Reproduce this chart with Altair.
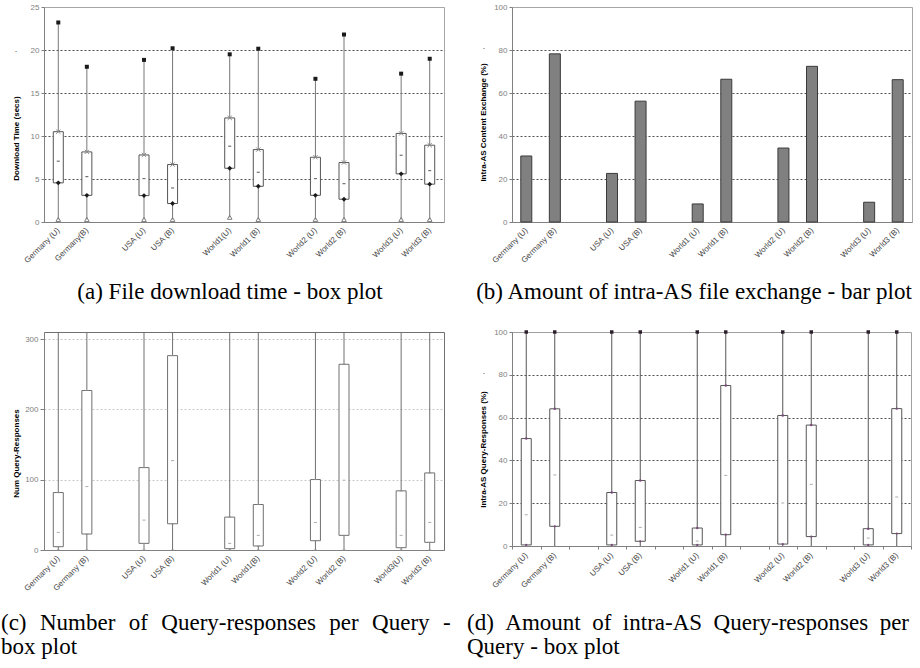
import altair as alt
import pandas as pd

SANS = "Liberation Sans"
SERIF = "Liberation Serif"
SPACERS = [" ", "  ", "   ", "    "]

# ---------------- data ----------------
# (a) File download time - box plot
a_labels = ["Germany (U)", "Germany(B)", "USA (U)", "USA (B)", "World1(U)",
            "World1 (B)", "World2 (U)", "World2 (B)", "World3 (U)", "World3 (B)"]
a_min = [0.3, 0.3, 0.3, 0.3, 0.55, 0.3, 0.3, 0.3, 0.3, 0.3]
a_q1 = [4.55, 3.1, 3.07, 2.15, 6.25, 4.15, 3.1, 2.65, 5.6, 4.4]
a_med = [7.07, 5.28, 5.05, 3.96, 8.81, 5.78, 5.05, 4.46, 7.76, 5.98]
a_q3 = [10.5, 8.15, 7.8, 6.68, 12.1, 8.42, 7.53, 6.91, 10.3, 8.93]
a_max = [23.2, 18.05, 18.85, 20.2, 19.5, 20.15, 16.65, 21.8, 17.25, 18.98]

# (b) Amount of intra-AS file exchange - bar plot
b_labels = ["Germany (U)", "Germany (B)", "USA (U)", "USA (B)", "World1 (U)",
            "World1 (B)", "World2 (U)", "World2 (B)", "World3 (U)", "World3 (B)"]
b_val = [30.7, 78.2, 22.6, 56.2, 8.4, 66.4, 34.4, 72.4, 9.2, 66.2]

# (c) Number of Query-responses per Query - box plot
c_labels = ["Germany (U)", "Germany (B)", "USA (U)", "USA (B)", "World1 (U)",
            "World1(B)", "World2 (U)", "World2 (B)", "World3(U)", "World3 (B)"]
c_min = [0, 0, 0, 0, 0, 0, 0, 0, 0, 0]
c_q1 = [4.7, 22.7, 9.4, 37.3, 1.9, 5.7, 13.2, 20.8, 3.3, 10.9]
c_med = [25.0, 90.2, 42.5, 127.1, 9.4, 20.8, 39.2, 99.2, 20.8, 39.2]
c_q3 = [81.7, 226.8, 117.2, 276.4, 46.8, 64.7, 100.2, 264.1, 84.1, 109.6]
c_max = [310, 310, 310, 310, 310, 310, 310, 310, 310, 310]

# (d) Amount of intra-AS Query-responses per Query - box plot
d_labels = ["Germany (U)", "Germany (B)", "USA (U)", "USA (B)", "World1 (U)",
            "World1 (B)", "World2 (U)", "World2 (B)", "World3 (U)", "World3 (B)"]
d_min = [0, 0, 0, 0, 0, 0, 0, 0, 0, 0]
d_q1 = [0.5, 9.2, 0.5, 2.2, 0.5, 5.3, 0.9, 4.4, 0.5, 5.8]
d_med = [14.6, 33.2, 5.1, 8.7, 2.3, 33.0, 20.1, 28.8, 3.7, 22.9]
d_q3 = [50.2, 64.1, 25.0, 30.6, 8.4, 75.0, 61.0, 56.5, 8.1, 64.2]
d_max = [100, 100, 100, 100, 100, 100, 100, 100, 100, 100]

cap_a = "(a) File download time - box plot"
cap_b = "(b) Amount of intra-AS file exchange - bar plot"
cap_c = ["(c) \u2004Number \u2004of \u2004Query-responses \u2004per \u2004Query \u2004-", "box plot"]
cap_d = ["(d) \u2005Amount \u2005of \u2005intra-AS \u2005Query-responses \u2005per", "Query - box plot"]


# ---------------- helpers ----------------
def domain_order(labels):
    out = []
    for i in range(5):
        out += labels[2 * i:2 * i + 2]
        if i < 4:
            out.append(SPACERS[i])
    return out


def x_enc(labels, ticks=False, tick_size=0, label_pad=7):
    return alt.X(
        "cat:N",
        scale=alt.Scale(domain=domain_order(labels), paddingInner=0, paddingOuter=0),
        axis=alt.Axis(title=None, labelAngle=-45, labelAlign="right", labelBaseline="middle",
                      labelFont=SANS, labelFontSize=8, labelColor="#444444", labelOverlap=False,
                      labelPadding=label_pad, ticks=ticks, tickSize=tick_size, tickBand="extent",
                      tickColor="#808080", domainColor="#808080", grid=False),
    )


def y_axis(vals, title, tx, ty, grid_color, top, label_pad=2, tick_size=3):
    return alt.Axis(values=vals, title=title, grid=True, gridColor=grid_color, gridDash=[2, 2],
                    gridWidth=1,
                    gridOpacity={"condition": {"test": f"datum.value >= {top}", "value": 0}, "value": 1},
                    labelFont=SANS, labelFontSize=8, labelColor="#7f7f7f",
                    labelPadding=label_pad, tickSize=tick_size, tickColor="#808080",
                    domainColor="#808080", titleFont=SANS, titleFontSize=8,
                    titleFontWeight="bold", titleColor="#000000", titleAngle=270,
                    titleX=tx, titleY=ty, titleAlign="center", titleBaseline="middle")


def note(text, x, y, size=23, align="left", font=SERIF, color="#000000"):
    return alt.Chart(pd.DataFrame({"t": [text]})).mark_text(
        align=align, baseline="alphabetic", font=font, fontSize=size, color=color
    ).encode(text="t:N", x=alt.value(x), y=alt.value(y))


def box_layers(df, labels, dom, axis, whisk_color, box_color, x_kwargs):
    scale = alt.Scale(domain=dom, nice=False, zero=True)

    def Y(f):
        return alt.Y(f + ":Q", scale=scale, axis=axis)

    base = alt.Chart(df).encode(x=x_enc(labels, **x_kwargs))
    whisk = base.mark_rule(color=whisk_color, strokeWidth=1).encode(y=Y("mn"), y2="mx:Q")
    box = base.mark_bar(size=10, fill="white", stroke=box_color, strokeWidth=1).encode(y=Y("q1"), y2="q3:Q")
    return base, Y, [whisk, box]


CAP1_Y = 292      # caption baseline, relative to the row-1 plot top
CAPC_Y = (298, 322)  # two caption lines, relative to the row-2 plot top

# ---------------- panel (a) ----------------
dfa = pd.DataFrame(dict(cat=a_labels, mn=a_min, q1=a_q1, med=a_med, q3=a_q3, mx=a_max))
ax_a = y_axis([0, 5, 10, 15, 20, 25], "Download Time (secs)", -28, 131, "#505050", 25)
base_a, Ya, la = box_layers(dfa, a_labels, [0, 25], ax_a, "#777777", "#555555", {})
pa = alt.layer(
    *la,
    base_a.mark_tick(size=3, thickness=1.2, color="#333333").encode(y=Ya("med")),
    base_a.mark_point(shape="M-1,-1L1,1M-1,1L1,-1", size=18, color="#8a8a8a", strokeWidth=1,
                      filled=False, opacity=1).encode(y=Ya("q3")),
    base_a.mark_point(shape="diamond", size=24, color="#1a1a1a", filled=True, opacity=1).encode(y=Ya("q1")),
    base_a.mark_point(shape="triangle-up", size=22, color="#808080", filled=False, strokeWidth=1,
                      opacity=1).encode(y=Ya("mn")),
    base_a.mark_square(size=16, color="#1a1a1a", opacity=1).encode(y=Ya("mx")),
    note(cap_a, 186, CAP1_Y, align="center"),
    note(".", -28, 45, size=9, align="center", font=SANS, color="#555555"),
).properties(width=400, height=215, view=alt.ViewBackground(stroke="#a6a6a6", strokeWidth=1))

# ---------------- panel (b) ----------------
dfb = pd.DataFrame(dict(cat=b_labels, v=b_val))
ax_b = y_axis([0, 20, 40, 60, 80, 100], "Intra-AS Content Exchange (%)", -29, 115, "#505050", 100)
pb = alt.layer(
    alt.Chart(dfb).mark_bar(size=11, color="#808080", stroke="#3a3a3a", strokeWidth=1).encode(
        x=x_enc(b_labels),
        y=alt.Y("v:Q", scale=alt.Scale(domain=[0, 100], nice=False), axis=ax_b),
    ),
    note(cap_b, 182, CAP1_Y, align="center"),
    note(".", -28, 42, size=9, align="center", font=SANS, color="#555555"),
).properties(width=400, height=215, view=alt.ViewBackground(stroke="#a6a6a6", strokeWidth=1))

# ---------------- panel (c) ----------------
dfc = pd.DataFrame(dict(cat=c_labels, mn=c_min, q1=c_q1, med=c_med, q3=c_q3, mx=c_max))
ax_c = y_axis([0, 100, 200, 300], "Num Query-Responses", -28, 121, "#c8c8c8", 1000,
              label_pad=2, tick_size=4)
base_c, Yc, lc = box_layers(dfc, c_labels, [0, 310], ax_c, "#707070", "#707070", {})
pc = alt.layer(
    *lc,
    base_c.mark_tick(size=3, thickness=1, color="#888888").encode(y=Yc("med")),
    base_c.mark_tick(size=3, thickness=1, color="#909090").encode(y=Yc("q1")),
    base_c.mark_tick(size=3, thickness=1, color="#909090").encode(y=Yc("q3")),
    base_c.mark_tick(size=3, thickness=1, color="#909090").encode(y=Yc("mn")),
    note(cap_c[0], -43, CAPC_Y[0]),
    note(cap_c[1], -43, CAPC_Y[1]),
).properties(width=400, height=218, view=alt.ViewBackground(stroke="#707070", strokeWidth=1))

# ---------------- panel (d) ----------------
dfd = pd.DataFrame(dict(cat=d_labels, mn=d_min, q1=d_q1, med=d_med, q3=d_q3, mx=d_max))
ax_d = y_axis([0, 20, 40, 60, 80, 100], "Intra-AS Query-Responses (%)", -29, 117, "#505050", 100)
base_d, Yd, ld = box_layers(dfd, d_labels, [0, 100], ax_d, "#555555", "#555555",
                            {"ticks": True, "tick_size": 3, "label_pad": 5})
pd_ = alt.layer(
    *ld,
    base_d.mark_tick(size=3, thickness=1, color="#888888").encode(y=Yd("med")),
    base_d.mark_circle(size=6, color="#7a4a7a", opacity=1).encode(y=Yd("q3")),
    base_d.mark_circle(size=5, color="#7a4a7a", opacity=1).encode(y=Yd("q1")),
    base_d.mark_square(size=12, color="#2b1f2b", opacity=1).encode(y=Yd("mx")),
    note(cap_d[0], -45, CAPC_Y[0]),
    note(cap_d[1], -45, CAPC_Y[1]),
    note(".", -28, 42, size=9, align="center", font=SANS, color="#555555"),
).properties(width=399, height=214, view=alt.ViewBackground(stroke="#a0a0a0", strokeWidth=1))

chart = alt.concat(
    pa, pb, pc, pd_, columns=2, spacing={"row": 110, "column": 68}, bounds="flush"
).properties(
    padding={"left": 0, "top": 2, "right": 0, "bottom": 0},
    background="white",
)

chart.save("out.html", embed_options={"renderer": "svg", "actions": False})
